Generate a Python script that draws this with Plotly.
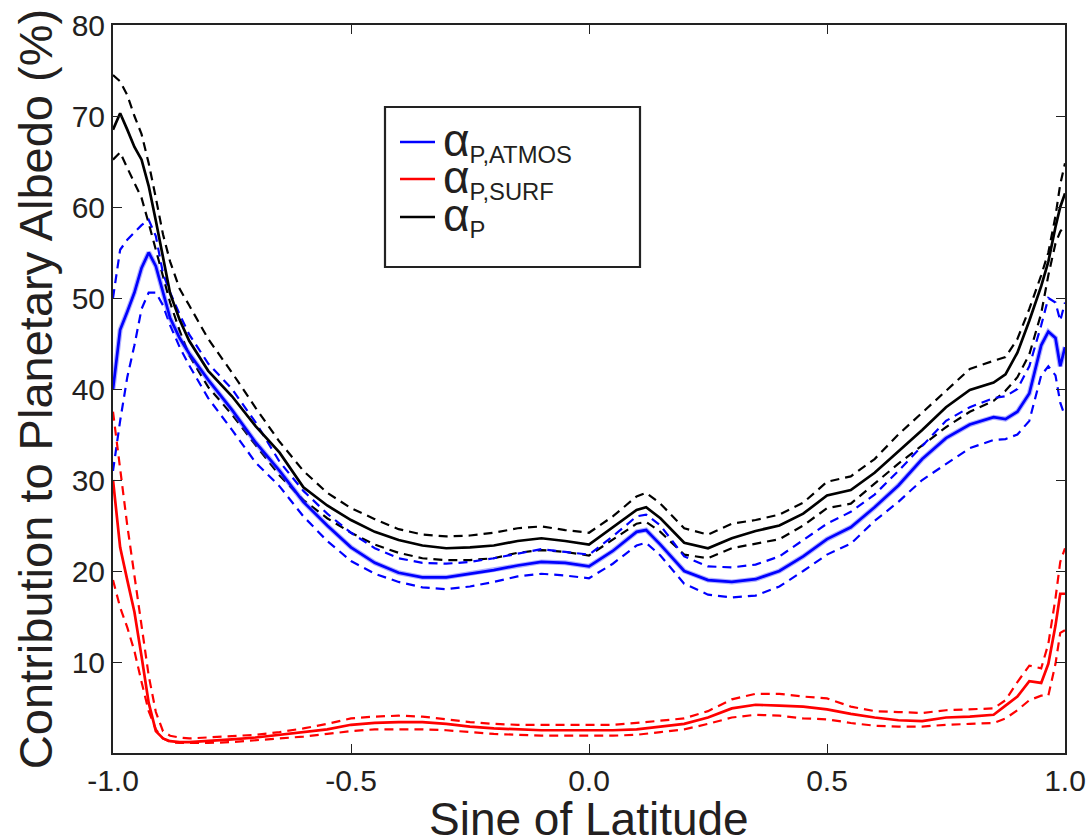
import plotly.graph_objects as go

sin_lat = [-1.0, -0.985, -0.97, -0.955, -0.94, -0.925, -0.91, -0.895, -0.88, -0.86,
           -0.84, -0.8, -0.75, -0.7, -0.65, -0.6, -0.55, -0.5, -0.45, -0.4,
           -0.35, -0.3, -0.25, -0.2, -0.15, -0.1, -0.05, 0.0, 0.05, 0.1,
           0.12, 0.15, 0.2, 0.25, 0.3, 0.35, 0.4, 0.45, 0.5, 0.55,
           0.6, 0.65, 0.7, 0.75, 0.8, 0.85, 0.875, 0.9, 0.925, 0.95,
           0.965, 0.98, 0.99, 1.0]

albedo_p = [68.5, 70.3, 68.5, 66.6, 65.2, 62.3, 58.5, 54.3, 50.5, 47.6,
            45.3, 42.0, 39.2, 35.9, 33.0, 29.2, 27.2, 25.6, 24.3, 23.4,
            22.8, 22.5, 22.6, 22.8, 23.3, 23.6, 23.3, 22.9, 24.8, 26.7,
            27.0, 25.8, 23.1, 22.5, 23.6, 24.4, 25.0, 26.3, 28.3, 28.9,
            30.8, 33.1, 35.5, 38.0, 39.9, 40.7, 41.6, 44.0, 47.5, 51.3,
            54.0, 57.8, 60.0, 61.5]
albedo_p_hi = [74.5, 73.8, 72.3, 70.0, 68.0, 64.8, 61.0, 57.0, 54.0, 51.0,
               49.2, 45.5, 41.8, 37.9, 34.2, 31.0, 28.6, 26.9, 25.7, 24.6,
               24.0, 23.8, 23.9, 24.2, 24.7, 24.9, 24.5, 24.2, 26.0, 28.2,
               28.6, 27.4, 24.7, 24.0, 25.2, 25.6, 26.2, 27.5, 29.8, 30.4,
               32.3, 35.0, 37.4, 39.8, 42.2, 43.1, 43.5, 45.5, 48.8, 52.5,
               55.0, 59.0, 62.5, 64.8]
albedo_p_lo = [65.2, 66.0, 64.3, 62.7, 61.0, 58.2, 55.3, 52.3, 49.5, 46.4,
               43.7, 40.2, 37.2, 33.8, 30.5, 27.8, 25.8, 24.2, 22.9, 22.0,
               21.4, 21.2, 21.2, 21.4, 22.0, 22.3, 22.1, 21.7, 23.5, 25.2,
               25.4, 24.3, 21.8, 21.4, 22.5, 23.0, 23.5, 25.0, 26.9, 27.4,
               29.6, 31.8, 33.8, 35.8, 37.5, 38.7, 39.8, 41.3, 43.8, 48.3,
               52.5, 56.0, 57.3, 58.0]

atmos = [40.0, 46.5, 48.5, 50.6, 53.3, 55.0, 53.5, 50.5, 47.8, 45.6,
         43.9, 41.0, 37.7, 34.1, 31.0, 27.6, 25.0, 22.6, 20.9, 19.8,
         19.3, 19.3, 19.7, 20.1, 20.6, 21.0, 20.9, 20.5, 22.2, 24.3,
         24.5, 22.9, 20.0, 19.0, 18.8, 19.1, 20.0, 21.6, 23.5, 24.8,
         27.0, 29.4, 32.3, 34.6, 36.1, 36.9, 36.7, 37.5, 39.5, 44.8,
         46.3, 45.6, 42.5, 44.6]
atmos_hi = [50.0, 55.3, 56.4, 57.2, 58.0, 58.6, 56.8, 52.7, 50.6, 48.2,
            46.0, 42.8, 40.0, 36.3, 32.0, 28.8, 26.3, 24.2, 22.5, 21.4,
            20.9, 20.8, 21.0, 21.4, 21.9, 22.4, 22.1, 21.8, 23.8, 26.0,
            26.2, 25.0, 21.6, 20.5, 20.4, 20.7, 21.6, 23.4, 25.2, 26.5,
            28.4, 31.0, 33.8, 36.5, 38.0, 39.0, 39.2, 40.0, 42.5, 47.0,
            50.0, 49.5, 47.5, 49.5]
atmos_lo = [31.0, 36.5, 41.3, 44.8, 48.8, 50.6, 50.6, 49.2, 47.0, 44.6,
            42.6, 39.0, 35.5, 31.9, 29.3, 26.0, 23.3, 21.1, 19.7, 18.8,
            18.2, 18.0, 18.3, 18.8, 19.4, 19.7, 19.5, 19.2, 20.8, 22.8,
            23.1, 21.7, 18.6, 17.4, 17.1, 17.3, 18.3, 20.0, 21.8, 23.0,
            25.5, 27.6, 30.0, 31.8, 33.5, 34.4, 34.5, 35.0, 36.5, 41.5,
            42.5, 41.5, 38.5, 37.0]

surf = [30.0, 22.6, 19.0, 15.5, 10.6, 5.5, 2.4, 1.6, 1.3, 1.2,
        1.2, 1.3, 1.5, 1.7, 2.0, 2.3, 2.6, 3.1, 3.3, 3.4,
        3.4, 3.2, 2.9, 2.7, 2.6, 2.5, 2.5, 2.5, 2.5, 2.6,
        2.7, 2.9, 3.2, 3.9, 4.9, 5.3, 5.2, 5.1, 4.8, 4.3,
        3.9, 3.6, 3.5, 3.9, 4.0, 4.2, 5.2, 6.2, 7.9, 7.7,
        9.8, 14.0, 17.5, 17.5]
surf_hi = [37.5, 31.0, 25.0, 19.5, 14.0, 8.5, 4.5, 2.4, 1.9, 1.7,
           1.6, 1.7, 1.8, 2.0, 2.3, 2.7, 3.2, 3.8, 4.0, 4.1,
           4.0, 3.7, 3.4, 3.2, 3.1, 3.1, 3.1, 3.1, 3.1, 3.3,
           3.4, 3.5, 3.8, 4.6, 5.9, 6.5, 6.5, 6.2, 6.0, 5.1,
           4.6, 4.5, 4.4, 4.7, 4.8, 4.9, 5.8, 7.8, 9.6, 9.3,
           12.0, 17.0, 21.0, 22.5]
surf_lo = [19.0, 16.0, 13.8, 11.2, 7.8, 4.6, 2.6, 1.6, 1.2, 1.1,
           1.1, 1.1, 1.2, 1.4, 1.6, 1.8, 2.1, 2.4, 2.6, 2.6,
           2.6, 2.5, 2.3, 2.1, 2.0, 1.9, 1.9, 1.9, 1.9, 2.0,
           2.1, 2.3, 2.6, 3.2, 3.9, 4.2, 4.1, 3.8, 3.7, 3.3,
           3.0, 2.9, 2.9, 3.1, 3.2, 3.3, 3.8, 4.7, 5.8, 6.3,
           6.3, 9.8, 13.2, 13.5]

x_tickvals = [-1.0, -0.5, 0.0, 0.5, 1.0]
x_ticktext = ["-1.0", "-0.5", "0.0", "0.5", "1.0"]
y_tickvals = [10, 20, 30, 40, 50, 60, 70, 80]

legend_subs = ["P,ATMOS", "P,SURF", "P"]
x_title = "Sine of Latitude"
y_title = "Contribution to Planetary Albedo (%)"

BLUE = "#0000ff"
RED = "#ff0000"
BLACK = "#000000"
DASH = "9px,6px"
FONT = "Liberation Sans, Arial, Helvetica, sans-serif"
TXT = "#231f20"

fig = go.Figure()

def dashed(y, color):
    fig.add_trace(go.Scatter(x=sin_lat, y=y, mode="lines", showlegend=False,
                             hoverinfo="skip",
                             line=dict(color=color, width=2.2, dash=DASH)))

for y, c in [(albedo_p_hi, BLACK), (albedo_p_lo, BLACK),
             (atmos_hi, BLUE), (atmos_lo, BLUE),
             (surf_hi, RED), (surf_lo, RED)]:
    dashed(y, c)

# light band around the atmospheric curve
fig.add_trace(go.Scatter(x=sin_lat, y=atmos, mode="lines", showlegend=False,
                         hoverinfo="skip",
                         line=dict(color="rgba(80,80,255,0.45)", width=5)))

series = [("α<sub>P,ATMOS</sub>", atmos, BLUE),
          ("α<sub>P,SURF</sub>", surf, RED),
          ("α<sub>P</sub>", albedo_p, BLACK)]
for name, y, c in series:
    fig.add_trace(go.Scatter(x=sin_lat, y=y, mode="lines", name=name,
                             showlegend=False,
                             line=dict(color=c, width=2.7)))

L, R, T, B = 113, 21, 25, 86
W, H = 1086, 839
pw, ph = W - L - R, H - T - B

def px_x(px):
    return (px - L) / pw

def px_y(py):
    return 1 - (py - T) / ph

# legend box drawn by hand to match the original layout
fig.add_shape(type="rect", xref="paper", yref="paper",
              x0=px_x(385), x1=px_x(640), y0=px_y(267), y1=px_y(107),
              line=dict(color="#222222", width=2.2), fillcolor="white",
              layer="above")
key_y = [142, 179, 217]
for (name, _, c), sub, ky in zip(series, legend_subs, key_y):
    fig.add_shape(type="line", xref="paper", yref="paper",
                  x0=px_x(400), x1=px_x(435), y0=px_y(ky), y1=px_y(ky),
                  line=dict(color=c, width=2.5), layer="above")
    fig.add_annotation(xref="paper", yref="paper", x=px_x(441), y=px_y(ky - 1),
                       xanchor="left", yanchor="middle", showarrow=False,
                       text="<span style='font-size:46px'>α</span><sub>" + sub + "</sub>",
                       font=dict(family=FONT, size=34, color=TXT))

# x-axis title (placed as annotation so it can sit as low as in the original)
fig.add_annotation(xref="paper", yref="paper", x=0.5, y=px_y(791),
                   xanchor="center", yanchor="top", showarrow=False,
                   text=x_title, font=dict(family=FONT, size=46, color=TXT))

fig.update_layout(
    width=W, height=H,
    margin=dict(l=L, r=R, t=T, b=B, pad=0),
    paper_bgcolor="white", plot_bgcolor="white",
    font=dict(family=FONT, color=TXT),
    showlegend=False,
)

fig.update_xaxes(range=[-1, 1], tickvals=x_tickvals, ticktext=x_ticktext,
                 showgrid=False, zeroline=False, automargin=False,
                 showline=True, linecolor="#222222", linewidth=2, mirror="ticks",
                 ticks="inside", ticklen=9, tickwidth=1.2, tickcolor="#222222",
                 tickfont=dict(family=FONT, size=30, color=TXT))
fig.update_yaxes(range=[0, 80], tickvals=y_tickvals,
                 showgrid=False, zeroline=False, automargin=False,
                 showline=True, linecolor="#222222", linewidth=2, mirror="ticks",
                 ticks="inside", ticklen=9, tickwidth=1.2, tickcolor="#222222",
                 tickfont=dict(family=FONT, size=30, color=TXT),
                 title=dict(text=y_title, standoff=4,
                            font=dict(family=FONT, size=47, color=TXT)))

fig.write_html("out.html")
